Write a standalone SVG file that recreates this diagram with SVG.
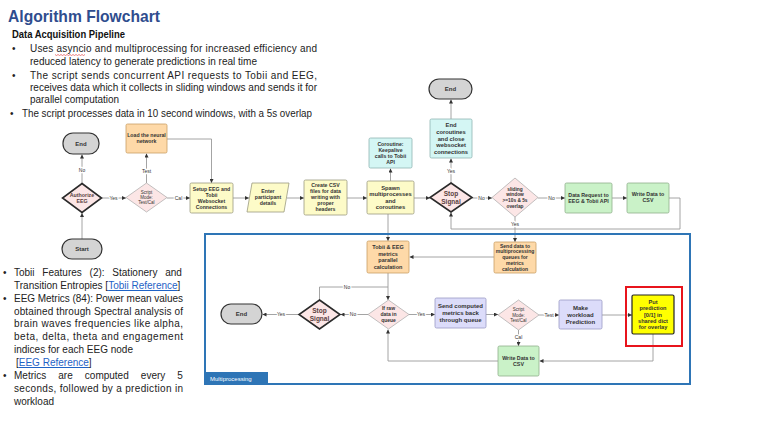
<svg xmlns="http://www.w3.org/2000/svg" width="766" height="423" viewBox="0 0 766 423">
<defs>
<marker id="arr" viewBox="0 0 6 6" refX="6" refY="3" markerWidth="4" markerHeight="4" markerUnits="userSpaceOnUse" orient="auto"><path d="M0,0 L6,3 L0,6 z" fill="#333"/></marker>
<style>
.body{font-family:"Liberation Sans",Arial,sans-serif;font-size:10px;fill:#222}
.n{font-family:"Liberation Sans",Arial,sans-serif;font-weight:bold;fill:#333;text-anchor:middle}
.dt{fill:#5a3e3e}
.d{font-family:"Liberation Sans",Arial,sans-serif;fill:#333;text-anchor:middle}
.c{stroke:#9a9a9a;stroke-width:0.9;fill:none}
.a{marker-end:url(#arr)}
.lbl{font-family:"Liberation Sans",Arial,sans-serif;font-size:5px;fill:#333;text-anchor:middle;stroke:#ffffff;stroke-width:2.5;paint-order:stroke;stroke-linejoin:round}
.pill{fill:#d4d4d4;stroke:#333;stroke-width:1.2}
.dk{fill:#fce6e6;stroke:#2a2a2a;stroke-width:1.6}
.dl{fill:#fce6e6;stroke:#a8a8a8;stroke-width:0.7}
.or{fill:#fed9a8;stroke:#c9a066;stroke-width:0.8}
.ye{fill:#fdfbc8;stroke:#9a9a80;stroke-width:0.8}
.cy{fill:#d4f6f4;stroke:#8fb5b3;stroke-width:0.8}
.gr{fill:#caf2c8;stroke:#8fae8c;stroke-width:0.8}
.lv{fill:#dcdcfa;stroke:#9a9ac4;stroke-width:0.8}
</style>
</defs>
<rect width="766" height="423" fill="#ffffff"/>

<!-- slide text -->
<text x="8" y="22" font-family="'Liberation Sans',Arial,sans-serif" font-weight="bold" font-size="16.5" fill="#2f4d8e" textLength="152" lengthAdjust="spacingAndGlyphs">Algorithm Flowchart</text>
<text x="12" y="38" font-family="'Liberation Sans',Arial,sans-serif" font-weight="bold" font-size="10" fill="#111" textLength="113" lengthAdjust="spacingAndGlyphs">Data Acquisition Pipeline</text>
<g class="body">
<text x="12" y="52">•</text>
<text x="30" y="52" textLength="287" lengthAdjust="spacing">Uses asyncio and multiprocessing for increased efficiency and</text>
<text x="30" y="65" textLength="227" lengthAdjust="spacingAndGlyphs">reduced latency to generate predictions in real time</text>
<text x="12" y="79">•</text>
<text x="30" y="79" textLength="287" lengthAdjust="spacing">The script sends concurrent API requests to Tobii and EEG,</text>
<text x="30" y="91" textLength="287" lengthAdjust="spacingAndGlyphs">receives data which it collects in sliding windows and sends it for</text>
<text x="30" y="103" textLength="89" lengthAdjust="spacingAndGlyphs">parallel computation</text>
<text x="10" y="117">•</text>
<text x="22" y="117" textLength="290" lengthAdjust="spacingAndGlyphs">The script processes data in 10 second windows, with a 5s overlap</text>
</g>
<path d="M55,54.5 l1.5,1 l1.5,-1 l1.5,1 l1.5,-1 l1.5,1 l1.5,-1 l1.5,1 l1.5,-1 l1.5,1 l1.5,-1 l1.5,1 l1.5,-1 l1.5,1 l1.5,-1 l1.5,1 l1.5,-1 l1.5,1 l1.5,-1 l1.5,1 l1.5,-1" fill="none" stroke="#e03030" stroke-width="0.6"/>

<g class="body">
<text x="3" y="276">•</text>
<text x="14" y="276" word-spacing="5">Tobii Features (2): Stationery and</text>
<text x="14" y="289">Transition Entropies [<tspan fill="#1f63c6" text-decoration="underline">Tobii Reference</tspan>]</text>
<text x="3" y="302">•</text>
<text x="14" y="302" textLength="169" lengthAdjust="spacing">EEG Metrics (84): Power mean values</text>
<text x="14" y="315" textLength="169" lengthAdjust="spacing">obtained through Spectral analysis of</text>
<text x="14" y="327" textLength="169" lengthAdjust="spacing">brain waves frequencies like alpha,</text>
<text x="14" y="340" textLength="169" lengthAdjust="spacing">beta, delta, theta and engagement</text>
<text x="14" y="353">indices for each EEG node</text>
<text x="16" y="366">[<tspan fill="#1f63c6" text-decoration="underline">EEG Reference</tspan>]</text>
<text x="3" y="379">•</text>
<text x="14" y="379" word-spacing="9.3">Metrics are computed every 5</text>
<text x="14" y="392" textLength="169" lengthAdjust="spacing">seconds, followed by a prediction in</text>
<text x="14" y="405">workload</text>
</g>

<!-- connectors -->
<g id="connectors">
<path class="c a" d="M82,239 V213"/>
<path class="c a" d="M82,183 V154.5"/>
<path class="c a" d="M101.5,198 H126"/>
<path class="c a" d="M146.5,183 V153.5"/>
<path class="c a" d="M167,139 H211.5 V183"/>
<path class="c a" d="M167,198 H190"/>
<path class="c a" d="M233,198 H249"/>
<path class="c a" d="M287,198 H304"/>
<path class="c a" d="M347,198 H367"/>
<path class="c a" d="M390.5,181 V168.5"/>
<path class="c a" d="M414,198 H430"/>
<path class="c a" d="M451,183 V158.5"/>
<path class="c a" d="M451,119 V99.5"/>
<path class="c a" d="M472,198 H492"/>
<path class="c a" d="M538,198 H565"/>
<path class="c a" d="M612,198 H627"/>
<path class="c a" d="M669,198 H680 V229 H451 V212.5"/>
<path class="c a" d="M515,217 V242"/>
<path class="c a" d="M388,214 V241"/>
<path class="c a" d="M494,257 H409.5"/>
<path class="c a" d="M388,273 V300"/>
<path class="c" d="M319.5,300 V287 H388"/>
<path class="c a" d="M368,314.5 H340.5"/>
<path class="c a" d="M299,314.5 H262.5"/>
<path class="c a" d="M409,314.5 H435"/>
<path class="c a" d="M486,314.5 H498"/>
<path class="c a" d="M539,315 H559"/>
<path class="c a" d="M602,315 H632"/>
<path class="c a" d="M518.5,330 V346"/>
<path class="c a" d="M653,334 V361 H539.5"/>
<path class="c a" d="M498,361 H388 V329.5"/>
<text class="lbl" x="82" y="171.5">No</text>
<text class="lbl" x="113.5" y="199.7">Yes</text>
<text class="lbl" x="146.5" y="172.5">Test</text>
<text class="lbl" x="178.5" y="199.7">Cal</text>
<text class="lbl" x="451" y="173">Yes</text>
<text class="lbl" x="481.5" y="199.7">No</text>
<text class="lbl" x="551.5" y="199.7">No</text>
<text class="lbl" x="515" y="226">Yes</text>
<text class="lbl" x="347" y="288.7">No</text>
<text class="lbl" x="353" y="316.2">No</text>
<text class="lbl" x="281" y="316.2">Yes</text>
<text class="lbl" x="421" y="316.2">Yes</text>
<text class="lbl" x="549" y="316.7">Test</text>
<text class="lbl" x="518.5" y="339">Cal</text>
</g>

<!-- multiprocessing frame -->
<g id="multiprocessing">
<rect x="205" y="234" width="485" height="150" fill="none" stroke="#2e75b6" stroke-width="2"/>
<rect x="205" y="372" width="63" height="12" fill="#2e75b6"/>
<text x="210" y="380.5" font-family="'Liberation Sans',Arial,sans-serif" font-size="6" fill="#ffffff">Multiprocessing</text>
</g>

<!-- nodes -->
<g id="end1"><rect class="pill" x="63" y="133" width="36" height="21" rx="10"/><text class="n" font-size="6" x="81" y="145.6">End</text></g>
<g id="authorize"><polygon class="dk" points="82,183.5 101.5,198 82,212.5 62.5,198"/><text class="n dt" font-size="5.3" x="82" y="196.7"><tspan x="82">Authorize</tspan><tspan x="82" dy="6.3">EEG</tspan></text></g>
<g id="start"><rect class="pill" x="62" y="239" width="40" height="20" rx="10"/><text class="n" font-size="6" x="82" y="251.1">Start</text></g>
<g id="scriptmode1"><polygon class="dl" points="146.5,183 167,197.5 146.5,212 126,197.5"/><text class="d" font-size="4.5" x="146.5" y="193.9"><tspan x="146.5">Script</tspan><tspan x="146.5" dy="5.2">Mode:</tspan><tspan x="146.5" dy="5.2">Test/Cal</tspan></text></g>
<g id="loadnn"><rect class="or" x="126" y="124" width="41" height="29" rx="1.5"/><text class="n" font-size="5.2" x="146.5" y="136.5"><tspan x="146.5">Load the neural</tspan><tspan x="146.5" dy="6">network</tspan></text></g>
<g id="setup"><rect class="ye" x="190" y="183" width="43" height="30" rx="1.5"/><text class="n" font-size="5.2" x="211.5" y="190.8"><tspan x="211.5">Setup EEG and</tspan><tspan x="211.5" dy="6">Tobii</tspan><tspan x="211.5" dy="6">Websocket</tspan><tspan x="211.5" dy="6">Connections</tspan></text></g>
<g id="enter"><polygon class="ye" points="252,183 289,183 284,212 247,212"/><text class="n" font-size="5.2" x="268" y="193.3"><tspan x="268">Enter</tspan><tspan x="268" dy="6">participant</tspan><tspan x="268" dy="6">details</tspan></text></g>
<g id="createcsv"><rect class="ye" x="304" y="180" width="43" height="35" rx="1.5"/><text class="n" font-size="5.2" x="325.5" y="187.3"><tspan x="325.5">Create CSV</tspan><tspan x="325.5" dy="6">files for data</tspan><tspan x="325.5" dy="6">writing with</tspan><tspan x="325.5" dy="6">proper</tspan><tspan x="325.5" dy="6">headers</tspan></text></g>
<g id="spawn"><rect class="ye" x="367" y="181" width="47" height="33" rx="1.5"/><text class="n" font-size="5.8" x="390.5" y="189.6"><tspan x="390.5">Spawn</tspan><tspan x="390.5" dy="6.6">multiprocesses</tspan><tspan x="390.5" dy="6.6">and</tspan><tspan x="390.5" dy="6.6">coroutines</tspan></text></g>
<g id="coroutine"><rect class="cy" x="369" y="138" width="43" height="30" rx="1.5"/><text class="n" font-size="5.2" x="390.5" y="145.8"><tspan x="390.5">Coroutine:</tspan><tspan x="390.5" dy="6">Keepalive</tspan><tspan x="390.5" dy="6">calls to Tobii</tspan><tspan x="390.5" dy="6">API</tspan></text></g>
<g id="stop1"><polygon class="dk" points="451,183 472,197.5 451,212 430,197.5"/><text class="n dt" font-size="6.5" x="451" y="196"><tspan x="451">Stop</tspan><tspan x="451" dy="7.5">Signal</tspan></text></g>
<g id="endco"><rect class="cy" x="430" y="119" width="42" height="39" rx="1.5"/><text class="n" font-size="5.8" x="451" y="127.3"><tspan x="451">End</tspan><tspan x="451" dy="6.6">coroutines</tspan><tspan x="451" dy="6.6">and close</tspan><tspan x="451" dy="6.6">websocket</tspan><tspan x="451" dy="6.6">connections</tspan></text></g>
<g id="end2"><rect class="pill" x="429" y="79" width="43" height="20" rx="10"/><text class="n" font-size="6" x="450.5" y="91.1">End</text></g>
<g id="sliding"><polygon class="dl" points="515,178 538,197.5 515,217 492,197.5"/><text class="n" font-size="4.8" x="515" y="190.8"><tspan x="515">sliding</tspan><tspan x="515" dy="5.6">window</tspan><tspan x="515" dy="5.6">&gt;=10s &amp; 5s</tspan><tspan x="515" dy="5.6">overlap</tspan></text></g>
<g id="datareq"><rect class="gr" x="565" y="183" width="47" height="30" rx="1.5"/><text class="n" font-size="5.3" x="588.5" y="196.8"><tspan x="588.5">Data Request to</tspan><tspan x="588.5" dy="6.2">EEG &amp; Tobii API</tspan></text></g>
<g id="writecsv1"><rect class="gr" x="627" y="183" width="42" height="30" rx="1.5"/><text class="n" font-size="5.3" x="648" y="196.2"><tspan x="648">Write Data to</tspan><tspan x="648" dy="6.2">CSV</tspan></text></g>
<g id="tobiimetrics"><rect class="or" x="367" y="241" width="42" height="32" rx="1.5"/><text class="n" font-size="5.5" x="388" y="249.3"><tspan x="388">Tobii &amp; EEG</tspan><tspan x="388" dy="6.4">metrics</tspan><tspan x="388" dy="6.4">parallel</tspan><tspan x="388" dy="6.4">calculation</tspan></text></g>
<g id="senddata"><rect class="or" x="494" y="242" width="42" height="31" rx="1.5"/><text class="n" font-size="5" x="515" y="247.6"><tspan x="515">Send data to</tspan><tspan x="515" dy="5.8">multiprocessing</tspan><tspan x="515" dy="5.8">queues for</tspan><tspan x="515" dy="5.8">metrics</tspan><tspan x="515" dy="5.8">calculation</tspan></text></g>
<g id="ifraw"><polygon class="dl" points="388.5,300 409,314.5 388.5,329 368,314.5"/><text class="n" font-size="5" x="388.5" y="310.2"><tspan x="388.5">If raw</tspan><tspan x="388.5" dy="6">data in</tspan><tspan x="388.5" dy="6">queue</tspan></text></g>
<g id="stop2"><polygon class="dk" points="319.5,300 340,314.5 319.5,329 299,314.5"/><text class="n dt" font-size="6.5" x="319.5" y="313"><tspan x="319.5">Stop</tspan><tspan x="319.5" dy="7.5">Signal</tspan></text></g>
<g id="end3"><rect class="pill" x="221" y="304" width="41" height="20" rx="10"/><text class="n" font-size="6" x="241.5" y="316.1">End</text></g>
<g id="sendcomputed"><rect class="lv" x="435" y="298" width="51" height="30" rx="1.5"/><text class="n" font-size="6" x="460.5" y="308.1"><tspan x="460.5">Send computed</tspan><tspan x="460.5" dy="7">metrics back</tspan><tspan x="460.5" dy="7">through queue</tspan></text></g>
<g id="scriptmode2"><polygon class="dl" points="518.5,300 539,315 518.5,330 498,315"/><text class="d" font-size="4.5" x="518.5" y="311.4"><tspan x="518.5">Script</tspan><tspan x="518.5" dy="5.2">Mode:</tspan><tspan x="518.5" dy="5.2">Test/Cal</tspan></text></g>
<g id="makepred"><rect class="lv" x="559" y="300" width="43" height="29" rx="1.5"/><text class="n" font-size="6" x="580.5" y="309.6"><tspan x="580.5">Make</tspan><tspan x="580.5" dy="7">workload</tspan><tspan x="580.5" dy="7">Prediction</tspan></text></g>
<g id="putpred"><rect x="626" y="287" width="56" height="59" fill="none" stroke="#e8141c" stroke-width="2"/><rect x="632" y="295" width="42" height="39" rx="1.5" fill="#ffff00" stroke="#222" stroke-width="1.2"/><text class="n" font-size="5.6" x="653" y="303.7"><tspan x="653">Put</tspan><tspan x="653" dy="6.4">prediction</tspan><tspan x="653" dy="6.4">[0/1] in</tspan><tspan x="653" dy="6.4">shared dict</tspan><tspan x="653" dy="6.4">for overlay</tspan></text></g>
<g id="writecsv2"><rect class="gr" x="498" y="346" width="41" height="30" rx="1.5"/><text class="n" font-size="5.3" x="518.5" y="359.8"><tspan x="518.5">Write Data to</tspan><tspan x="518.5" dy="6.2">CSV</tspan></text></g>
</svg>
